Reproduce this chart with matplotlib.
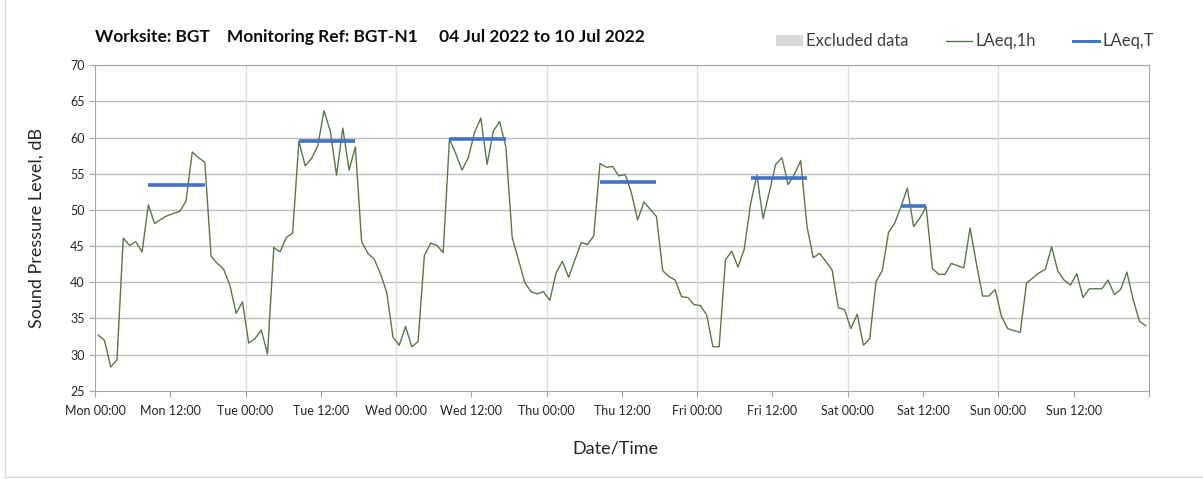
import matplotlib
matplotlib.use("Agg")
import matplotlib.pyplot as plt
import numpy as np
from matplotlib.lines import Line2D
from matplotlib.patches import Patch

plt.rcParams["font.family"] = ["Lato", "DejaVu Sans"]

# hourly LAeq,1h values, Mon 00:00 .. Sun 23:00 (plotted at mid-hour)
laeq_1h = [
    32.7, 32.0, 28.3, 29.3, 46.1, 45.1, 45.6, 44.2, 50.7, 48.1, 48.7, 49.2,
    49.5, 49.8, 51.2, 58.0, 57.2, 56.6, 43.6, 42.6, 41.8, 39.6, 35.7, 37.3,
    31.6, 32.2, 33.4, 30.1, 44.8, 44.2, 46.2, 46.8, 59.5, 56.1, 57.1, 58.8,
    63.7, 60.9, 54.8, 61.3, 55.5, 58.7, 45.6, 44.0, 43.2, 41.2, 38.6, 32.4,
    31.3, 33.9, 31.1, 31.8, 43.7, 45.4, 45.1, 44.1, 59.8, 57.8, 55.5, 57.2,
    60.7, 62.7, 56.3, 60.9, 62.2, 58.7, 46.2, 43.1, 40.0, 38.7, 38.4, 38.7,
    37.5, 41.3, 42.9, 40.7, 43.1, 45.5, 45.2, 46.4, 56.4, 55.9, 56.0, 54.7,
    54.9, 52.4, 48.6, 51.1, 50.1, 49.1, 41.6, 40.8, 40.3, 38.0, 37.9, 36.9,
    36.8, 35.5, 31.1, 31.1, 43.1, 44.3, 42.1, 44.6, 50.8, 54.8, 48.8, 52.5,
    56.3, 57.2, 53.5, 54.9, 56.8, 47.7, 43.4, 44.0, 42.9, 41.7, 36.5, 36.2,
    33.6, 35.6, 31.3, 32.2, 40.1, 41.6, 46.9, 48.2, 50.5, 53.0, 47.7, 48.9,
    50.4, 41.9, 41.1, 41.1, 42.6, 42.3, 42.0, 47.5, 42.6, 38.1, 38.1, 39.0,
    35.3, 33.6, 33.3, 33.1, 39.9, 40.6, 41.3, 41.8, 44.9, 41.5, 40.3, 39.6,
    41.2, 37.9, 39.1, 39.1, 39.1, 40.3, 38.3, 39.0, 41.4, 37.6, 34.6, 34.0,
]
hours = np.arange(len(laeq_1h)) + 0.5

# LAeq,T daytime periods: start hour, end hour, level
period_start = [8.5, 32.5, 56.5, 80.5, 104.5, 128.5]
period_end = [17.5, 41.5, 65.5, 89.5, 113.5, 132.5]
period_level = [53.4, 59.5, 59.8, 53.8, 54.4, 50.5]

days = ["Mon", "Tue", "Wed", "Thu", "Fri", "Sat", "Sun"]
tick_labels = [f"{d} {h}" for d in days for h in ("00:00", "12:00")] + [""]

fig = plt.figure(figsize=(12.03, 4.79), dpi=100)
ax = fig.add_axes([0.079, 0.184, 0.876, 0.680])

# chart-area frame (left and bottom edges visible)
fig.lines.append(Line2D([0.0045, 0.0045], [0.004, 1.0], transform=fig.transFigure,
                        color="#d9d9d9", lw=1))
fig.lines.append(Line2D([0.0045, 1.0], [0.004, 0.004], transform=fig.transFigure,
                        color="#d9d9d9", lw=1))

ax.plot(hours, laeq_1h, color="#5b7647", lw=1.0, zorder=3)
ax.hlines(period_level, period_start, period_end, color="#4472c4", lw=2.6, zorder=4)

ax.set_xlim(0, 168)
ax.set_ylim(25, 70)
ax.set_xticks(np.arange(0, 169, 12))
ax.set_xticklabels(tick_labels)
ax.set_yticks(np.arange(25, 71, 5))
ax.tick_params(axis="both", direction="out", length=4, color="#a6a6a6",
               labelsize=9, labelcolor="#262626")
ax.tick_params(axis="x", pad=6)

for y in range(30, 71, 5):
    ax.axhline(y, color="#bfbfbf", lw=1, zorder=1)
for x in range(24, 168, 24):
    ax.axvline(x, color="#dedede", lw=1, zorder=1)
for s in ax.spines.values():
    s.set_color("#a6a6a6")

ax.set_ylabel("Sound Pressure Level, dB", fontsize=13, color="#262626")
ax.yaxis.set_label_coords(-0.048, 0.5)
ax.set_xlabel("Date/Time", fontsize=13, color="#262626")
ax.xaxis.set_label_coords(0.494, -0.152)

fig.text(0.079, 0.922, "Worksite: BGT    Monitoring Ref: BGT-N1     04 Jul 2022 to 10 Jul 2022",
         fontsize=12.5, fontweight="bold", color="#0d0d0d", va="center")

handles = [
    Patch(facecolor="#d9d9d9", edgecolor="none"),
    Line2D([], [], color="#5b7647", lw=1),
    Line2D([], [], color="#4472c4", lw=2.2),
]
fig.legend(handles, ["Excluded data", "LAeq,1h", "LAeq,T"], loc="center right",
           bbox_to_anchor=(0.972, 0.914), ncol=3, frameon=False, fontsize=12,
           handlelength=1.6, handleheight=0.6, handletextpad=0.2, columnspacing=2.2,
           labelcolor="#404040")

fig.savefig("out.png", dpi=100)
